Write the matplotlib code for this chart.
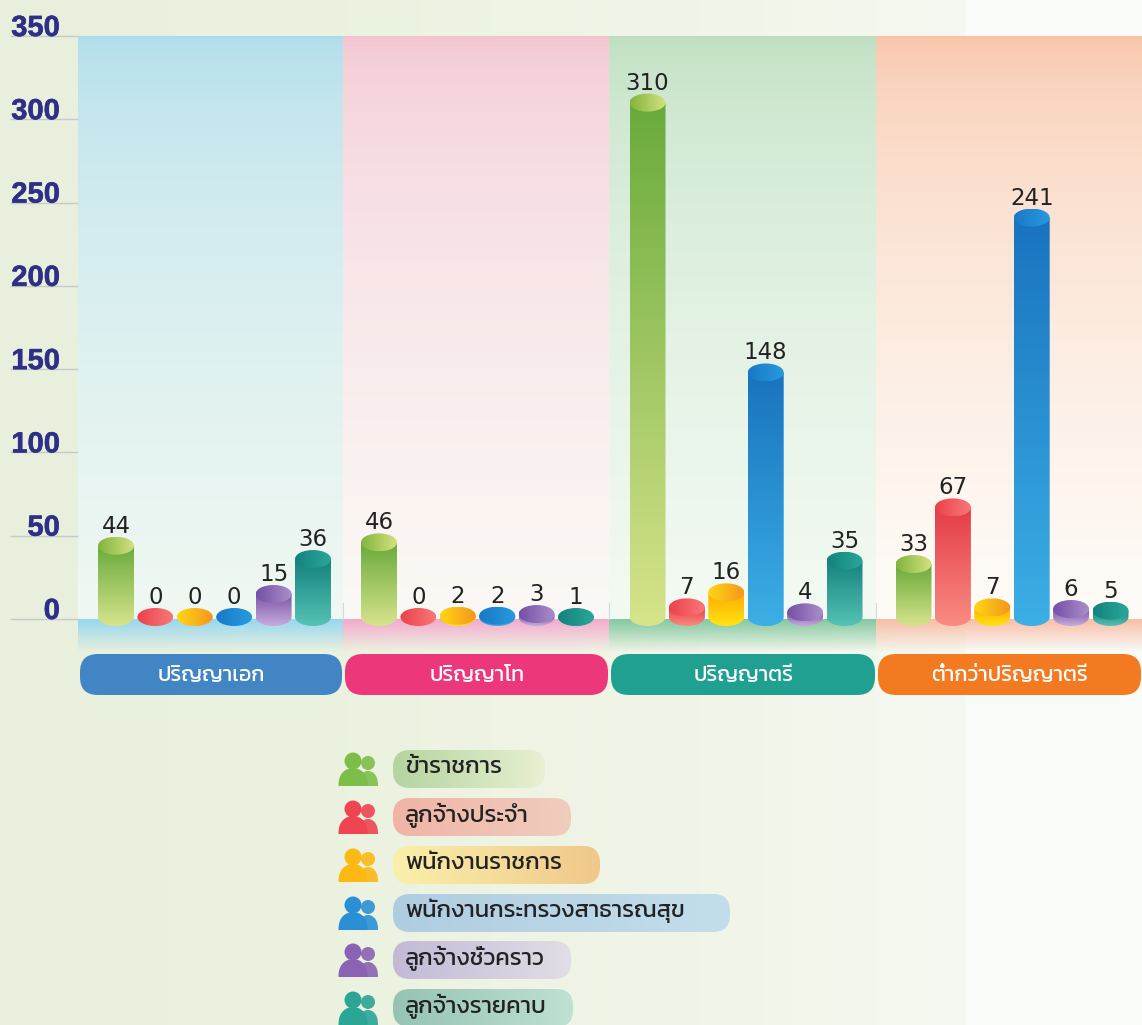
import numpy as np
import matplotlib
matplotlib.use("Agg")
import matplotlib.pyplot as plt
import matplotlib.patheffects as pe
from matplotlib.patches import FancyBboxPatch, Ellipse, Polygon, Circle

categories = ["ปริญญาเอก", "ปริญญาโท", "ปริญญาตรี", "ต่ำกว่าปริญญาตรี"]
series_names = ["ข้าราชการ", "ลูกจ้างประจำ", "พนักงานราชการ",
                "พนักงานกระทรวงสาธารณสุข", "ลูกจ้างชั่วคราว", "ลูกจ้างรายคาบ"]
civil = [44, 46, 310, 33]
regular = [0, 0, 7, 67]
gov_emp = [0, 2, 16, 7]
moph = [0, 2, 148, 241]
temp = [15, 3, 4, 6]
hourly = [36, 1, 35, 5]
series = [civil, regular, gov_emp, moph, temp, hourly]
yticks = [0, 50, 100, 150, 200, 250, 300, 350]

THAI = "Kanit"

W, H = 1142, 1025
fig = plt.figure(figsize=(W/100, H/100), dpi=100)
bg = fig.add_axes([0, 0, 1, 1], zorder=0)
bg.set_xlim(0, W); bg.set_ylim(H, 0); bg.axis("off")

def grad_v(top, bottom, n=256, power=1.0):
    t = (np.linspace(0, 1, n)**power)[:, None, None]
    return (np.array(top)[None, None, :] * (1-t) + np.array(bottom)[None, None, :] * t) / 255
def grad_h(left, right, n=256):
    t = np.linspace(0, 1, n)[None, :, None]
    return (np.array(left)[None, None, :] * (1-t) + np.array(right)[None, None, :] * t) / 255

# background
xs = np.arange(W)
cols = np.stack([np.interp(xs, [0, 350, 700, 964, 966, 1142], c) for c in
                 ([232, 236, 241, 245, 249, 250], [240, 242, 245, 248, 251, 252], [221, 224, 232, 240, 248, 250])], axis=1)
bg.imshow(cols[None, :, :]/255, extent=(0, W, H, 0), aspect="auto", zorder=0)

panel_edges = [78, 343, 609, 876, 1142]
panel_top = [(172, 220, 236), (243, 196, 208), (188, 222, 190), (248, 195, 165)]
panel_bot = [(240, 248, 242), (251, 249, 245), (243, 250, 243), (254, 252, 248)]
band_top = [(150, 215, 240), (243, 170, 205), (130, 200, 160), (248, 190, 165)]
pill_cols = ["#4285C4", "#EC387A", "#20A091", "#F37A20"]
for i in range(4):
    x0, x1 = panel_edges[i], panel_edges[i+1]
    bg.imshow(grad_v(panel_top[i], panel_bot[i], power=0.5), extent=(x0, x1, 619, 36), aspect="auto", zorder=1,
              interpolation="bilinear")
    rgba = np.concatenate([grad_v(band_top[i], band_top[i]), np.linspace(1, 0, 256)[:, None, None]], axis=2)
    bg.imshow(rgba, extent=(x0, x1, 652, 619), aspect="auto", zorder=1, interpolation="bilinear")
    p = FancyBboxPatch((x0+2, 654), x1-x0-3, 41, boxstyle="round,pad=0,rounding_size=18",
                       fc=pill_cols[i], ec="none", zorder=2)
    bg.add_patch(p)
    bg.text((x0+x1)/2+1, 676, categories[i], color="white", fontsize=15.5, ha="center", va="center",
            family=[THAI, "DejaVu Sans"], zorder=3)
    if i:
        bg.plot([x0, x0], [603, 619], color="#d3d8d8", lw=0.8, zorder=1.5)
bg.set_xlim(0, W); bg.set_ylim(H, 0)

# chart axes
ax = fig.add_axes([78/W, 1-619/H, (W-78)/W, (619-36)/H], zorder=1)
ax.patch.set_alpha(0)
ax.set_xlim(78, W); ax.set_ylim(0, 350)
for s in ax.spines.values():
    s.set_visible(False)
k = (619-36)/350
ax.set_xticks([])
ax.set_yticks(yticks)
ax.tick_params(axis="y", length=68*0.72, width=1, color="#c6cac8", pad=13-68*0.72, labelsize=21, labelcolor="#2F2F87")
for l in ax.get_yticklabels():
    l.set_fontfamily("Liberation Sans"); l.set_fontweight("bold"); l.set_va("baseline")
    l.set_path_effects([pe.withStroke(linewidth=0.4, foreground="#2F2F87")])
ax.axhline(0, color="#c6cac8", lw=0.8, zorder=1)

body_top = [(105, 170, 60), (228, 60, 72), (255, 170, 0), (25, 115, 190), (125, 85, 165), (20, 130, 125)]
body_bot = [(215, 228, 140), (250, 140, 130), (255, 228, 20), (60, 175, 230), (198, 172, 222), (85, 195, 180)]
cap_left = [(130, 180, 60), (235, 65, 75), (255, 215, 20), (25, 120, 200), (115, 80, 165), (20, 130, 125)]
cap_right = [(212, 226, 130), (250, 120, 120), (245, 150, 30), (40, 155, 222), (172, 142, 202), (42, 168, 152)]
bw = 36
group_x = np.array([116.0, 379.0, 647.5, 913.5])
step = 39.4
ry = 9/k
floor = 1.2

for j, vals in enumerate(series):
    xp = group_x + j*step
    ax.bar(xp, vals, width=bw-3, color=[tuple(c/255 for c in body_top[j])]*4, zorder=2)
    for x, v in zip(xp, vals):
        top = max(v, floor)
        th = np.linspace(np.pi, 2*np.pi, 40)
        verts = [(x-bw/2, top)] + list(zip(x+bw/2*np.cos(th), floor+ry*np.sin(th))) + [(x+bw/2, top)]
        if v > 0:
            clip = Polygon(verts, closed=True, transform=ax.transData, fc="none", ec="none", clip_on=False)
            ax.add_patch(clip)
            im = ax.imshow(grad_v(body_top[j], body_bot[j]), extent=(x-bw/2, x+bw/2, floor-ry, top),
                           aspect="auto", zorder=3, interpolation="bilinear")
            im.set_clip_box(fig.bbox)
            im.set_clip_path(clip)
        e = Ellipse((x, top), bw, 2*ry, fc="none", ec="none", transform=ax.transData, clip_on=False)
        ax.add_patch(e)
        im = ax.imshow(grad_h(cap_left[j], cap_right[j]), extent=(x-bw/2, x+bw/2, top-ry, top+ry),
                       aspect="auto", zorder=4, interpolation="bilinear")
        im.set_clip_box(fig.bbox)
        im.set_clip_path(e)
        ax.annotate(str(v), (x, top), xytext=(0, 9.4), textcoords="offset points", ha="center", va="baseline",
                    fontsize=16.5, color="#222222", family="DejaVu Sans", zorder=5, annotation_clip=False)
ax.set_xlim(78, W); ax.set_ylim(0, 350)

# legend (pixel coordinates)
lg = fig.add_axes([0, 0, 1, 1], zorder=2)
lg.set_xlim(0, W); lg.set_ylim(H, 0); lg.axis("off")
row_y = [769, 817, 865, 913, 960, 1008]
pill_end = [545, 571, 600, 730, 571, 573]
pill_l = [(180, 212, 160), (240, 180, 165), (250, 240, 170), (175, 205, 225), (195, 185, 215), (150, 195, 180)]
pill_r = [(232, 240, 210), (240, 205, 190), (240, 200, 140), (195, 222, 235), (225, 222, 230), (190, 225, 210)]
icon = ["#7DBD4A", "#EE4550", "#FDB813", "#2B8FD6", "#8A63B4", "#2BA596"]

def half_body(cx, base, half_w, height):
    th = np.linspace(0, np.pi, 30)
    return np.column_stack([cx + half_w*np.cos(th), base - height*np.sin(th)**0.8])

for y, end, l, r, name, ic in zip(row_y, pill_end, pill_l, pill_r, series_names, icon):
    p = FancyBboxPatch((393, y-19), end-393, 38, boxstyle="round,pad=0,rounding_size=17", fc="none", ec="none")
    lg.add_patch(p)
    im = lg.imshow(grad_h(l, r), extent=(393, end, y+19, y-19), aspect="auto", zorder=2)
    im.set_clip_path(p)
    lg.text(405, y-2, name, fontsize=17, color="#222222", va="center", ha="left",
            family=[THAI, "DejaVu Sans"], zorder=3)
    # two-person icon
    lg.add_patch(Circle((368, y-6), 7, fc=ic, ec="none", zorder=2, alpha=0.9))
    lg.add_patch(Polygon(half_body(368, y+17, 10, 15), fc=ic, ec="none", zorder=2, alpha=0.9))
    lg.add_patch(Circle((353, y-8), 8.5, fc=ic, ec="none", zorder=3))
    lg.add_patch(Polygon(half_body(353, y+17, 14.5, 18), fc=ic, ec="none", zorder=3))
lg.set_xlim(0, W); lg.set_ylim(H, 0)

fig.savefig("out.png", dpi=100)
